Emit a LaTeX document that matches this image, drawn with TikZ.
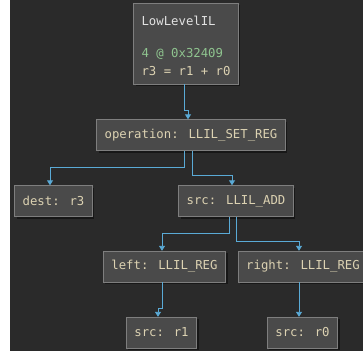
\documentclass[tikz,border=0pt]{standalone}
\usepackage{fontspec}
\newfontfamily\ilmono{DejaVu Sans Mono}
\usepackage{tikz}
\usetikzlibrary{arrows.meta, positioning, shadows}

\definecolor{bgdark}{HTML}{2A2A2A}
\definecolor{boxfill}{HTML}{4A4A4A}
\definecolor{boxline}{HTML}{7E7E7E}
\definecolor{fieldtext}{HTML}{DCD2B2}
\definecolor{addrgreen}{HTML}{8FC48F}
\definecolor{titlegrey}{HTML}{E2E2E2}
\definecolor{edgeblue}{HTML}{5AAAD6}

\begin{document}
\begin{tikzpicture}[x=1pt, y=-1pt]
            \tikzstyle{field} = [draw=boxline, fill=boxfill, rectangle, minimum height=31pt, inner xsep=8pt,
                text=fieldtext, font=\ilmono\fontsize{12.3}{18}\selectfont,
                drop shadow={shadow xshift=2pt, shadow yshift=-2pt, fill=black, opacity=0.45}]
            \tikzstyle{link} = [draw=edgeblue, line width=0.9pt, -{Triangle[width=6pt, length=5pt]}]

            \fill[white] (0,0) rectangle (363,351);
            \fill[bgdark] (10,0) rectangle (363,351);
            \useasboundingbox (0,0) rectangle (363,351);

            \node[field, align=left, anchor=south, minimum height=81pt, minimum width=102pt] (il) at (186,84)
                {{\color{titlegrey}\rule{0pt}{14pt}LowLevelIL}\\[14pt]{\color{addrgreen}4 @ 0x32409}\\r3 = r1 + r0};

            \node[field] (op) at (191,135) {operation: LLIL\_SET\_REG};
            \node[field] (dest) at (53.5,201) {dest: r3};
            \node[field] (add) at (236,201) {src: LLIL\_ADD};
            \node[field] (left) at (164.5,266.5) {left: LLIL\_REG};
            \node[field] (right) at (303,266.5) {right: LLIL\_REG};
            \node[field] (r1) at (161.5,332.5) {src: r1};
            \node[field] (r0) at (302.5,332.5) {src: r0};

            \draw[link] ([xshift=-2pt]il.south) -- ++(0,26) -| ([xshift=-3pt]op.north);
            \draw[link] ([xshift=-7pt]op.south) -- ++(0,17) -| ([xshift=-3.5pt]dest.north);
            \draw[link] ([xshift=1pt]op.south) -- ++(0,25) -| ([xshift=-4pt]add.north);
            \draw[link] ([xshift=-7pt]add.south) -- ++(0,17) -| ([xshift=-2.5pt]left.north);
            \draw[link] (add.south) -- ++(0,25) -| ([xshift=-4pt]right.north);
            \draw[link] ([xshift=-2.5pt]left.south) -- ++(0,26) -| ([xshift=-3.5pt]r1.north);
            \draw[link] ([xshift=-4pt]right.south) -- ([xshift=-3.5pt]r0.north);
        \end{tikzpicture}
\end{document}
